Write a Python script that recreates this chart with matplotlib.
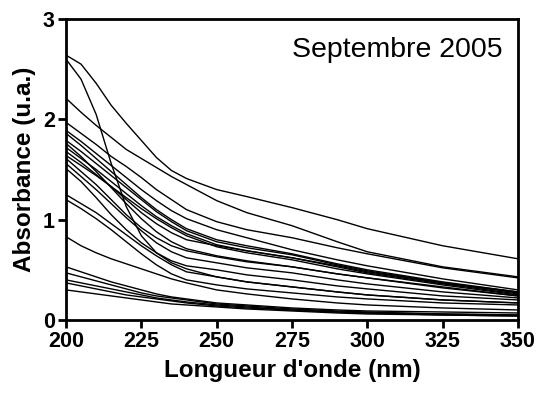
import matplotlib
matplotlib.use("Agg")
import matplotlib.pyplot as plt
import numpy as np

plt.rcParams['font.family'] = ['Liberation Sans', 'DejaVu Sans']

wl = [200, 205, 210, 215, 220, 225, 230, 235, 240, 250, 260, 275, 290, 300, 325, 350]

# absorbance spectra (u.a.), one list per sample
s_a = [2.64, 2.55, 2.36, 2.14, 1.96, 1.79, 1.62, 1.49, 1.41, 1.30, 1.23, 1.12, 1.00, 0.91, 0.74, 0.61]
s_b = [2.60, 2.40, 2.05, 1.56, 1.13, 0.84, 0.67, 0.57, 0.51, 0.43, 0.38, 0.33, 0.28, 0.25, 0.20, 0.17]
s_c = [2.21, 2.07, 1.94, 1.82, 1.70, 1.61, 1.52, 1.43, 1.35, 1.19, 1.07, 0.94, 0.78, 0.68, 0.53, 0.43]
s_d = [1.97, 1.86, 1.75, 1.63, 1.53, 1.42, 1.30, 1.20, 1.10, 0.98, 0.90, 0.82, 0.72, 0.66, 0.52, 0.42]
s_e = [1.89, 1.78, 1.66, 1.54, 1.42, 1.30, 1.19, 1.09, 1.01, 0.90, 0.82, 0.70, 0.60, 0.54, 0.41, 0.30]
s_f = [1.86, 1.74, 1.61, 1.48, 1.35, 1.22, 1.10, 1.00, 0.91, 0.80, 0.74, 0.66, 0.56, 0.50, 0.38, 0.28]
s_g = [1.79, 1.68, 1.56, 1.44, 1.32, 1.20, 1.08, 0.98, 0.89, 0.78, 0.72, 0.65, 0.55, 0.49, 0.37, 0.27]
s_p = [1.76, 1.63, 1.48, 1.32, 1.16, 1.01, 0.88, 0.78, 0.71, 0.64, 0.59, 0.53, 0.46, 0.42, 0.32, 0.24]
s_h = [1.72, 1.61, 1.50, 1.38, 1.26, 1.14, 1.03, 0.94, 0.86, 0.75, 0.69, 0.62, 0.53, 0.47, 0.36, 0.26]
s_q = [1.68, 1.57, 1.45, 1.33, 1.20, 1.07, 0.96, 0.87, 0.80, 0.74, 0.69, 0.62, 0.54, 0.48, 0.37, 0.28]
s_i = [1.64, 1.54, 1.44, 1.33, 1.22, 1.11, 1.01, 0.92, 0.84, 0.73, 0.67, 0.60, 0.51, 0.46, 0.35, 0.25]
s_j = [1.61, 1.48, 1.35, 1.20, 1.05, 0.92, 0.82, 0.74, 0.69, 0.63, 0.58, 0.53, 0.46, 0.42, 0.33, 0.24]
s_k = [1.56, 1.43, 1.30, 1.16, 1.02, 0.89, 0.77, 0.68, 0.62, 0.57, 0.52, 0.47, 0.40, 0.36, 0.28, 0.22]
s_l = [1.51, 1.38, 1.22, 1.05, 0.90, 0.77, 0.67, 0.59, 0.54, 0.50, 0.45, 0.40, 0.34, 0.31, 0.24, 0.20]
s_m = [1.25, 1.16, 1.07, 0.96, 0.85, 0.74, 0.64, 0.55, 0.48, 0.43, 0.38, 0.33, 0.28, 0.25, 0.20, 0.17]
s_n = [1.20, 1.11, 1.01, 0.90, 0.78, 0.66, 0.55, 0.46, 0.40, 0.35, 0.31, 0.27, 0.23, 0.21, 0.17, 0.15]
s_o = [0.83, 0.74, 0.67, 0.61, 0.56, 0.51, 0.46, 0.41, 0.37, 0.30, 0.26, 0.21, 0.17, 0.15, 0.12, 0.10]
s_r = [0.53, 0.48, 0.43, 0.38, 0.34, 0.30, 0.26, 0.23, 0.21, 0.17, 0.15, 0.12, 0.10, 0.09, 0.08, 0.07]
s_s = [0.47, 0.43, 0.39, 0.35, 0.31, 0.27, 0.24, 0.22, 0.20, 0.16, 0.14, 0.11, 0.09, 0.08, 0.06, 0.05]
s_t = [0.40, 0.37, 0.34, 0.31, 0.28, 0.25, 0.22, 0.20, 0.18, 0.15, 0.13, 0.10, 0.08, 0.07, 0.06, 0.05]
s_u = [0.37, 0.34, 0.31, 0.28, 0.25, 0.23, 0.21, 0.19, 0.17, 0.14, 0.12, 0.10, 0.08, 0.07, 0.05, 0.04]
s_v = [0.30, 0.28, 0.26, 0.24, 0.22, 0.20, 0.18, 0.16, 0.15, 0.13, 0.11, 0.09, 0.07, 0.06, 0.05, 0.04]

spectra = [s_a, s_b, s_c, s_d, s_e, s_f, s_g, s_p, s_h, s_q, s_i, s_j, s_k, s_l,
           s_m, s_n, s_o, s_r, s_s, s_t, s_u, s_v]

xticks = [200, 225, 250, 275, 300, 325, 350]
yticks = [0, 1, 2, 3]

fig = plt.figure(figsize=(5.39, 3.94), dpi=100)
ax = fig.add_axes([0.1224, 0.1878, 0.8386, 0.764])

for s in spectra:
    ax.plot(wl, s, color='black', lw=1.0)

ax.set_xlim(200, 350)
ax.set_ylim(0, 3)
ax.set_xticks(xticks)
ax.set_yticks(yticks)
for sp in ax.spines.values():
    sp.set_linewidth(2.0)
ax.tick_params(axis='both', direction='out', length=6, width=2.0, labelsize=15.5, pad=2)
for lab in ax.get_xticklabels() + ax.get_yticklabels():
    lab.set_fontweight('bold')

ax.set_xlabel("Longueur d'onde (nm)", fontsize=17.5, fontweight='bold', labelpad=5)
ax.set_ylabel("Absorbance (u.a.)", fontsize=17.5, fontweight='bold', labelpad=5)

ax.text(0.967, 0.897, "Septembre 2005", transform=ax.transAxes,
        ha='right', va='center', fontsize=20.5)

fig.savefig("out.png", dpi=100)
